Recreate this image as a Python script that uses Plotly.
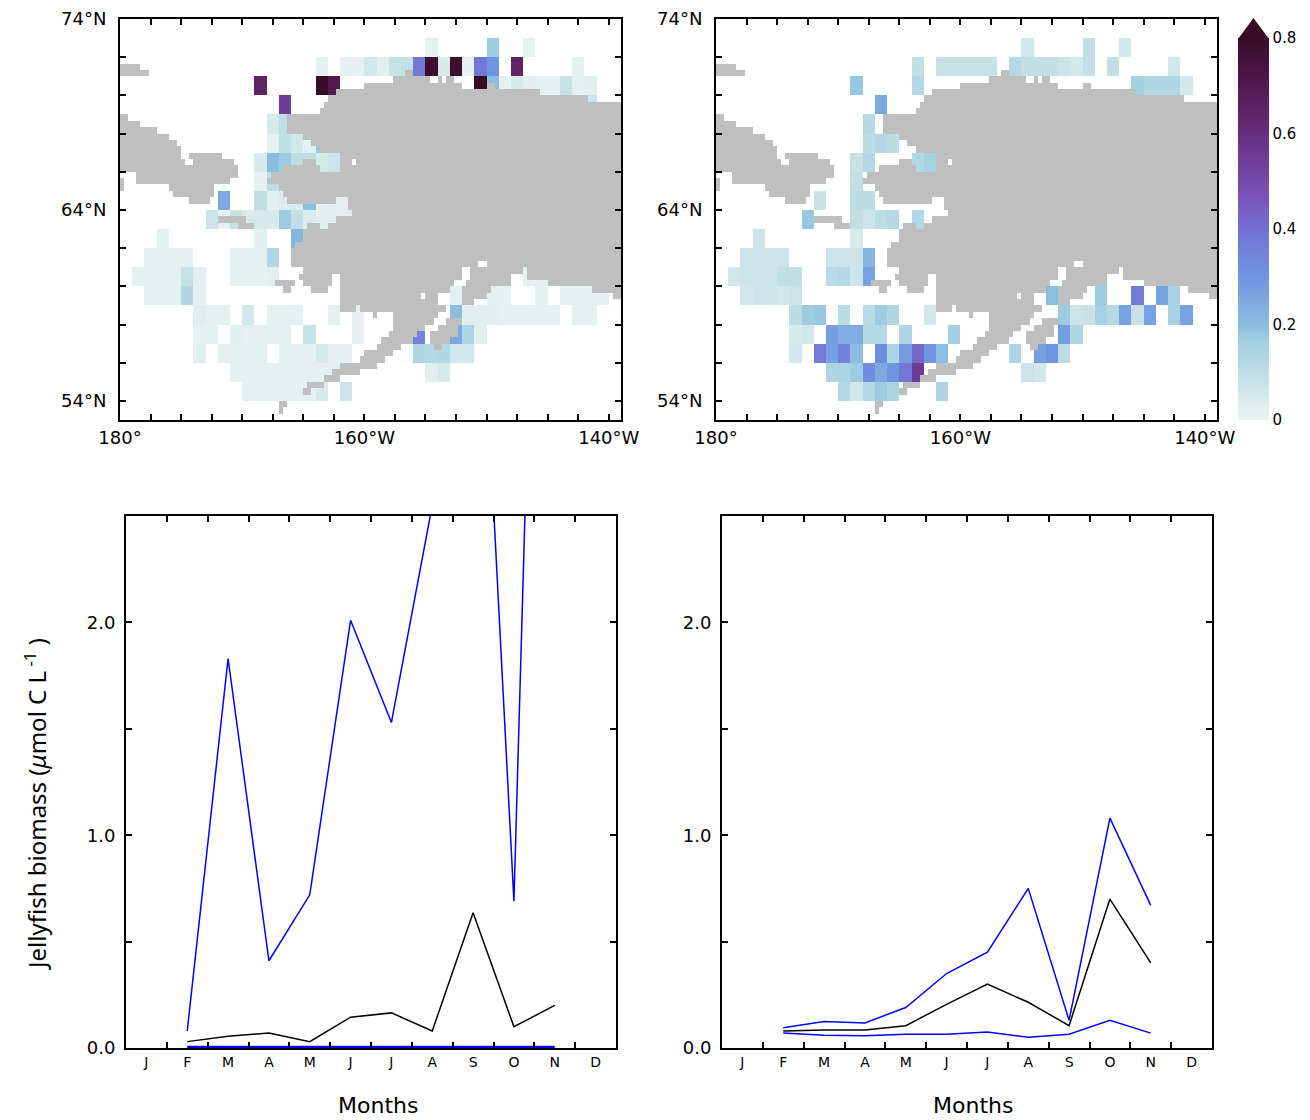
import numpy as np
import plotly.graph_objects as go

# ---------- Map data: {north edge of 1-degree row: {column (degrees east of 180): value}} ----------
CELLS_LEFT = {
    73: {25: .02, 30: .17, 33: .02},
    72: {16: .02, 18: .02, 19: .02, 20: .06, 21: .03, 22: .08, 23: .09, 24: .38, 25: .78, 26: .05, 27: .78,
         28: .02, 29: .38, 30: .30, 32: .65, 37: .02},
    71: {11: .65, 16: .80, 17: .70, 29: .80, 30: .20, 31: .02, 32: .05, 33: .03, 34: .02, 35: .02, 36: .08,
         37: .02, 38: .03},
    70: {13: .55, 38: .07},
    69: {12: .05, 13: .10},
    68: {12: .02, 13: .09, 14: .06, 15: .02, 16: .18},
    67: {11: .05, 12: .20, 13: .17, 14: .10, 15: .10, 16: .05, 17: .07},
    66: {11: .02, 12: .10},
    65: {8: .25, 11: .09, 12: .03, 13: .04, 14: .04, 15: .20, 16: .02, 17: .03, 18: .02},
    64: {7: .07, 8: .02, 9: .08, 10: .05, 11: .05, 12: .05, 13: .17, 14: .09, 15: .04, 16: .03, 17: .03, 18: .02},
    63: {3: .02, 11: .03, 14: .22},
    62: {2: .025, 3: .02, 4: .02, 5: .02, 9: .025, 10: .02, 11: .02, 12: .13},
    61: {1: .02, 2: .025, 3: .025, 4: .02, 5: .08, 6: .03, 9: .02, 10: .02, 11: .02, 12: .03, 33: .02, 34: .02},
    60: {2: .02, 3: .02, 4: .02, 5: .13, 6: .02, 27: .02, 30: .02, 31: .02, 34: .02, 36: .02, 37: .02, 38: .02,
         39: .02},
    59: {6: .035, 7: .02, 8: .02, 10: .06, 12: .02, 13: .02, 14: .02, 17: .02, 19: .02, 27: .20, 28: .03,
         29: .03, 30: .03, 31: .02, 32: .02, 33: .02, 34: .02, 35: .02, 37: .02, 38: .02},
    58: {6: .02, 7: .02, 9: .03, 10: .02, 11: .025, 12: .02, 13: .02, 15: .08, 19: .02, 24: .35, 27: .25,
         28: .13, 29: .03},
    57: {6: .035, 8: .02, 9: .02, 10: .02, 11: .02, 13: .02, 14: .02, 15: .02, 16: .05, 17: .02, 18: .02,
         24: .13, 25: .12, 26: .13, 27: .06, 28: .06},
    56: {9: .02, 10: .02, 11: .02, 12: .025, 13: .02, 14: .02, 15: .02, 16: .02, 17: .02, 25: .03, 26: .05},
    55: {10: .02, 11: .02, 12: .02, 13: .02, 14: .025, 15: .02, 16: .05, 18: .07},
}
CELLS_RIGHT = {
    73: {25: .06, 30: .09, 33: .06},
    72: {16: .09, 18: .08, 19: .08, 20: .08, 21: .08, 22: .08, 24: .12, 25: .09, 26: .09, 27: .09, 28: .07,
         29: .06, 30: .09, 32: .09, 37: .06},
    71: {11: .18, 16: .12, 34: .16, 35: .13, 36: .13, 37: .13, 38: .06},
    70: {13: .25},
    69: {12: .12},
    68: {12: .10, 13: .12, 14: .10},
    67: {11: .08, 12: .12, 16: .13, 17: .15},
    66: {11: .09},
    65: {8: .08, 11: .10, 12: .10},
    64: {7: .18, 11: .09, 12: .07, 13: .10, 14: .12, 16: .13},
    63: {3: .07, 11: .05},
    62: {2: .07, 3: .07, 4: .07, 5: .07, 9: .07, 10: .07, 11: .07, 12: .22},
    61: {1: .06, 2: .07, 3: .07, 4: .07, 5: .09, 6: .09, 9: .11, 10: .12, 11: .07, 12: .27},
    60: {2: .06, 3: .07, 4: .07, 5: .06, 6: .07, 27: .20, 31: .17, 34: .37, 36: .27, 37: .15},
    59: {6: .10, 7: .17, 8: .18, 10: .10, 12: .11, 13: .17, 14: .13, 17: .06, 28: .17, 29: .07, 30: .08,
         31: .15, 32: .12, 33: .27, 34: .08, 35: .27, 37: .15, 38: .27},
    58: {6: .05, 7: .06, 9: .28, 10: .24, 11: .24, 12: .12, 13: .12, 15: .13, 19: .16, 28: .28, 29: .13},
    57: {6: .06, 8: .37, 9: .27, 10: .35, 11: .20, 13: .32, 14: .14, 15: .28, 16: .42, 17: .30, 18: .20,
         24: .14, 26: .28, 27: .30, 28: .10},
    56: {9: .14, 10: .14, 11: .17, 12: .32, 13: .25, 14: .30, 15: .38, 16: .55, 25: .07, 26: .06},
    55: {10: .12, 11: .06, 12: .12, 13: .17, 14: .14, 18: .14},
}

# Land mask: for each 1/3-degree row from 74N southward, runs of land in degrees east of 180.
E = 41
LAND_ROWS = {
    7: [(0, 1.67)], 8: [(0, 2.33), (23.33, 24)],
    9: [(22.33, 25.33), (26, 26.33), (26.67, 27.33)],
    10: [(20, 28), (30, 30.67)], 11: [(17.67, 34.33)], 12: [(17, 38.33)],
    13: [(16.67, E)], 14: [(16.33, E)],
    15: [(0, .67), (13.67, E)], 16: [(0, 1.67), (13.67, E)], 17: [(0, 3), (13.67, E)],
    18: [(0, 4), (15, E)], 19: [(0, 4.67), (15.67, E)], 20: [(0, 5), (16.33, E)],
    21: [(0, 5), (5.67, 8.33), (18, E)],
    22: [(0, 5.33), (6, 9.33), (15, 16), (18, 19), (19.33, E)],
    23: [(0, 9.67), (13.33, 16.33), (18, E)],
    24: [(1.33, 9.67), (12.33, E)],
    25: [(0, .33), (1.33, 9), (12, E)],
    26: [(0, .33), (4, 7.67), (13, E)],
    27: [(4.33, 7.67), (13.33, E)],
    28: [(5.67, 7.33), (13.67, 17.67), (18.67, E)],
    29: [(18.67, E)], 30: [(19, E)],
    31: [(8, 10.33), (17.67, E)],
    32: [(9.67, 11), (15.33, 16.33), (17, E)],
    33: [(15, E)], 34: [(15, E)], 35: [(14.33, E)], 36: [(14, E)], 37: [(14, E)],
    38: [(14, 29.33), (30, E)],
    39: [(15, 28), (28.67, 33), (33.33, E)],
    40: [(14.67, 17.33), (18, 28), (28.67, 32), (33.33, E)],
    41: [(12.67, 14.33), (15, 17.33), (18, 27.33), (28.33, 32), (35, E)],
    42: [(13.33, 14), (15.67, 17), (18, 27), (28, 30.33), (38.67, E)],
    43: [(18, 24.67), (25, 26), (28, 30), (40.33, E)],
    44: [(18, 26), (28, 29)],
    45: [(18, 19.33), (19.67, 26.67)],
    46: [(20.67, 21), (22.33, 26)],
    47: [(22.33, 25.67), (26.67, 28)],
    48: [(22.33, 25), (26, 27.67)],
    49: [(22, 24.33), (25.33, 27.67)],
    50: [(21.33, 24), (25.33, 27)],
    51: [(21, 23), (25.67, 26.33)],
    52: [(20, 22.33)], 53: [(19.67, 21.67)], 54: [(18, 21)], 55: [(17.33, 19.67)],
    56: [(16.67, 18)], 57: [(15.33, 16.67)], 58: [(15, 15.67)],
    60: [(13, 13.67)], 61: [(13, 13.33)],
}

# ---------- Line data ----------
MONTHS = ["J", "F", "M", "A", "M", "J", "J", "A", "S", "O", "N", "D"]
MONTH_POS = [i + 0.5 for i in range(12)]
LINE_POS = MONTH_POS[1:11]
LEFT_UPPER = [0.08, 1.83, 0.41, 0.72, 2.01, 1.53, 2.55, 4.4, 0.69, 7.4]
LEFT_MEAN = [0.03, 0.055, 0.07, 0.03, 0.145, 0.165, 0.08, 0.635, 0.10, 0.20]
LEFT_LOWER = [0.001, 0.001, 0.001, 0.001, 0.001, 0.001, 0.001, 0.004, 0.001, 0.001]
RIGHT_UPPER = [0.095, 0.125, 0.118, 0.19, 0.35, 0.45, 0.75, 0.13, 1.08, 0.67]
RIGHT_MEAN = [0.08, 0.085, 0.085, 0.105, 0.205, 0.30, 0.215, 0.105, 0.70, 0.40]
RIGHT_LOWER = [0.07, 0.06, 0.058, 0.065, 0.065, 0.075, 0.05, 0.065, 0.13, 0.07]

COLORSCALE = [
    [0.0, "#e6f1f0"], [0.03, "#e5f1f0"], [0.0625, "#d6e9eb"], [0.125, "#bddde5"], [0.2, "#a4d0e2"],
    [0.25, "#8bbde0"], [0.375, "#6f95e0"], [0.5, "#7470d2"], [0.59, "#7a52b8"], [0.72, "#6a3588"],
    [0.82, "#5f1f64"], [0.9, "#4e1648"], [1.0, "#360d24"],
]
W, H = 1310, 1120
TICK_FONT = dict(family="DejaVu Sans", size=18, color="black")


def cell_grid(cells):
    lats = [73.5 - i for i in range(21)]
    lons = [-179.5 + i for i in range(41)]
    z = [[cells.get(74 - i, {}).get(j) for j in range(41)] for i in range(21)]
    return lons, lats, z


def land_grid():
    lons = [-180 + (i + .5) / 3 for i in range(123)]
    lats = [74 - (k + .5) / 3 for k in range(63)]
    z = np.full((63, 123), np.nan)
    for k, spans in LAND_ROWS.items():
        for a, b in spans:
            z[k, int(round(a * 3)):int(round(b * 3))] = 1
    return lons, lats, [[None if np.isnan(v) else 1 for v in row] for row in z]


def dom_x(a, b):
    return [a / W, b / W]


def dom_y(top, bottom):
    return [1 - bottom / H, 1 - top / H]


fig = go.Figure()
land = land_grid()
for n, cells in ((1, CELLS_LEFT), (2, CELLS_RIGHT)):
    xa, ya = f"x{n}", f"y{n}"
    lons, lats, z = cell_grid(cells)
    fig.add_trace(go.Heatmap(x=lons, y=lats, z=z, xaxis=xa, yaxis=ya, coloraxis="coloraxis",
                             hoverongaps=False))
    fig.add_trace(go.Heatmap(x=land[0], y=land[1], z=land[2], xaxis=xa, yaxis=ya, showscale=False,
                             colorscale=[[0, "#bfbfbf"], [1, "#bfbfbf"]], zmin=0, zmax=1, hoverongaps=False))

for n, series in ((3, (LEFT_UPPER, LEFT_MEAN, LEFT_LOWER)), (4, (RIGHT_UPPER, RIGHT_MEAN, RIGHT_LOWER))):
    for vals, col in zip(series, ("#0000ff", "black", "#0000ff")):
        on_axis = vals is LEFT_LOWER
        fig.add_trace(go.Scatter(x=LINE_POS, y=vals, mode="lines", line=dict(color=col, width=4 if on_axis else 1.5),
                                 xaxis=f"x{n}", yaxis=f"y{n}", showlegend=False, cliponaxis=not on_axis))

frame = dict(showline=True, linewidth=2, linecolor="black", mirror="allticks", ticks="inside", automargin=False,
             ticklen=6, tickwidth=2, tickcolor="black", showgrid=False, zeroline=False, tickfont=TICK_FONT)
minor_ticks = dict(tickmode="array", ticks="inside", ticklen=6, tickwidth=2, tickcolor="black", showgrid=False)

lon_major = [-180, -160, -140]
lon_labels = ["180°", "160°W", "140°W"]
lon_minor = [-180 + 2.5 * i for i in range(17) if i % 8]
lat_major = [54, 64, 74]
lat_labels = ["54°N", "64°N", "74°N"]
lat_minor = [v for v in range(54, 75, 2) if v not in lat_major]
layout = dict(width=W, height=H, autosize=False, margin=dict(l=0, r=0, t=0, b=0),
              paper_bgcolor="white", plot_bgcolor="white", showlegend=False,
              font=dict(family="DejaVu Sans", color="black"))

for n, (a, b) in ((1, (120, 621)), (2, (716, 1217))):
    layout[f"xaxis{n}"] = dict(frame, domain=dom_x(a, b), range=[-180, -139], tickmode="array", anchor=f"y{n}",
                               tickvals=lon_major, ticktext=lon_labels, ticklabelstandoff=0,
                               minor=dict(minor_ticks, tickvals=lon_minor))
    layout[f"yaxis{n}"] = dict(frame, domain=dom_y(19, 420), range=[53, 74], tickmode="array", anchor=f"x{n}",
                               tickvals=lat_major, ticktext=lat_labels, ticklabelstandoff=8,
                               minor=dict(minor_ticks, tickvals=lat_minor))

for n, (a, b) in ((3, (126, 616)), (4, (722, 1212))):
    layout[f"xaxis{n}"] = dict(frame, domain=dom_x(a, b), range=[0, 12], anchor=f"y{n}", tickmode="array",
                               tickvals=MONTH_POS, ticktext=MONTHS, ticklen=0, ticks="", ticklabelstandoff=0,
                               tickfont=dict(family="DejaVu Sans", size=14, color="black"),
                               minor=dict(minor_ticks, tickvals=list(range(1, 12))))
    layout[f"yaxis{n}"] = dict(frame, domain=dom_y(516, 1048), range=[0, 2.5], anchor=f"x{n}", tickmode="array",
                               tickvals=[0, 1, 2], ticktext=["0.0", "1.0", "2.0"], ticklabelstandoff=5,
                               minor=dict(minor_ticks, tickvals=[.5, 1.5, 2.5]))

title_font = dict(family="DejaVu Sans", size=22, color="black")
layout["annotations"] = [
    dict(text="Months", xref="paper", yref="paper", x=377.5 / W, y=1 - 1105 / H, showarrow=False,
         xanchor="center", yanchor="middle", font=title_font),
    dict(text="Months", xref="paper", yref="paper", x=972.5 / W, y=1 - 1105 / H, showarrow=False,
         xanchor="center", yanchor="middle", font=title_font),
    dict(text="Jellyfish biomass (<i>μ</i>mol C L<sup> -1</sup> )", xref="paper", yref="paper",
         x=35 / W, y=1 - 804 / H, showarrow=False, textangle=-90, xanchor="center", yanchor="middle",
         font=dict(family="Noto Sans", size=24, color="black")),
]

layout["coloraxis"] = dict(colorscale=COLORSCALE, cmin=0, cmax=0.8,
                           colorbar=dict(x=1238 / W, xanchor="left", xpad=0, ypad=0, thickness=31,
                                         thicknessmode="pixels", lenmode="fraction", len=(420 - 38) / H,
                                         y=1 - 420 / H, yanchor="bottom", outlinewidth=0, ticks="",
                                         tickmode="array", tickvals=[0, .2, .4, .6, .8],
                                         ticktext=["0", "0.2", "0.4", "0.6", "0.8"],
                                         tickfont=dict(family="DejaVu Sans", size=15, color="black")))
layout["shapes"] = [dict(type="path", xref="paper", yref="paper", line=dict(width=0), fillcolor="#360d24",
                         path=f"M {1238 / W} {1 - 39 / H} L {1253.5 / W} {1 - 18 / H} L {1269 / W} {1 - 39 / H} Z")]
fig.update_layout(**layout)
fig.write_html("out.html", config=dict(displayModeBar=False), post_script="document.body.style.margin='0';")
